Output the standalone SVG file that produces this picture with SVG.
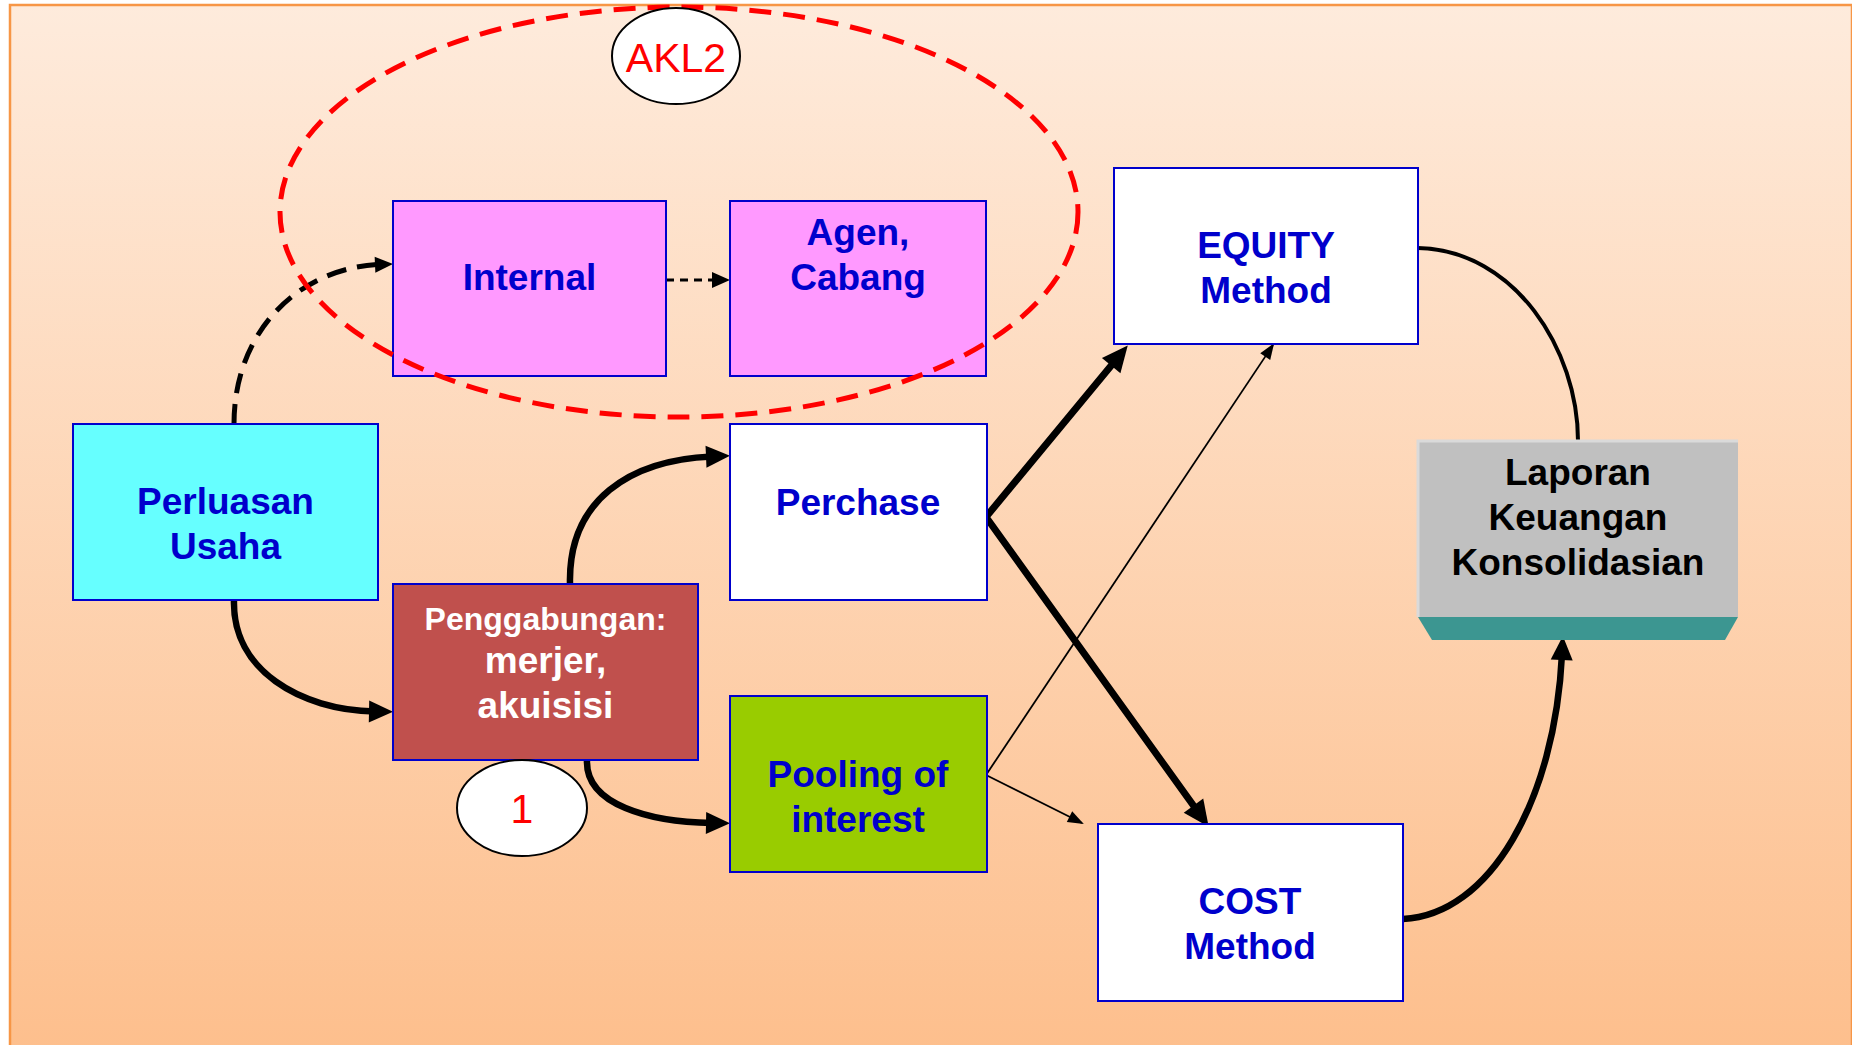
<svg xmlns="http://www.w3.org/2000/svg" width="1852" height="1045" viewBox="0 0 1852 1045">
<defs>
<linearGradient id="bg" x1="0" y1="0" x2="0" y2="1">
<stop offset="0" stop-color="#FEEBDC"/>
<stop offset="1" stop-color="#FDBF8D"/>
</linearGradient>
<marker id="mThick" markerUnits="userSpaceOnUse" markerWidth="26" markerHeight="24" refX="6" refY="12" orient="auto-start-reverse" overflow="visible"><path d="M0,0 L26,12 L0,24 z" fill="#000"/></marker>
<marker id="mMed" markerUnits="userSpaceOnUse" markerWidth="24" markerHeight="22" refX="6" refY="11" orient="auto" overflow="visible"><path d="M0,0 L24,11 L0,22 z" fill="#000"/></marker>
<marker id="mDash" markerUnits="userSpaceOnUse" markerWidth="18" markerHeight="16" refX="4" refY="8" orient="auto" overflow="visible"><path d="M0,0 L18,8 L0,16 z" fill="#000"/></marker>
<marker id="mThin" markerUnits="userSpaceOnUse" markerWidth="16" markerHeight="12" refX="14" refY="6" orient="auto" overflow="visible"><path d="M0,0 L16,6 L0,12 z" fill="#000"/></marker>
</defs>
<style>
.box{stroke:#0000CC;stroke-width:2}
.t{font-family:"Liberation Sans",Arial,sans-serif;font-weight:bold;font-size:37px;text-anchor:middle;fill:#0000CC}
.w{fill:#FFFFFF}
.k{fill:#000000}
.lbl{font-family:"Liberation Sans",Arial,sans-serif;font-size:41px;text-anchor:middle;fill:#FF0000}
.c{fill:none;stroke:#000}
</style>
<rect x="10" y="5" width="1842" height="1045" fill="url(#bg)" stroke="#F79646" stroke-width="2.5"/>

<g id="connectors">
<path class="c" d="M234,424 C234,330 300,268 379,264.5" stroke-width="5" stroke-dasharray="20 11" marker-end="url(#mDash)"/>
<path class="c" d="M666,280 L716,280" stroke-width="3" stroke-dasharray="8 6" marker-end="url(#mDash)"/>
<path class="c" d="M234,600 C232,670 300,710 375,711.5" stroke-width="6.5" marker-end="url(#mMed)"/>
<path class="c" d="M570,584 C568,500 630,460 712,456.5" stroke-width="6.5" marker-end="url(#mMed)"/>
<path class="c" d="M587,760 C585,805 650,822 712,823" stroke-width="6.5" marker-end="url(#mMed)"/>
<path class="c" d="M1115,361 L986,517 L1197,810.5" stroke-width="7" stroke-linejoin="miter" marker-start="url(#mThick)" marker-end="url(#mThick)"/>
<path class="c" d="M986,775 L1273,345" stroke-width="1.8" marker-end="url(#mThin)"/>
<path class="c" d="M986,775 L1082,823" stroke-width="1.8" marker-end="url(#mThin)"/>
<path class="c" d="M1418,248 C1515,250 1578,350 1578,441" stroke-width="4"/>
<path class="c" d="M1403,919 C1490,915 1555,800 1562,654" stroke-width="6.5" marker-end="url(#mMed)"/>
</g>

<g id="node-internal">
<rect class="box" x="393" y="201" width="273" height="175" fill="#FF99FF"/>
<text class="t" x="529.5" y="290">Internal</text>
</g>
<g id="node-agen">
<rect class="box" x="730" y="201" width="256" height="175" fill="#FF99FF"/>
<text class="t" x="858" y="245">Agen,</text>
<text class="t" x="858" y="290">Cabang</text>
</g>
<g id="node-equity">
<rect class="box" x="1114" y="168" width="304" height="176" fill="#FFFFFF"/>
<text class="t" x="1266" y="258">EQUITY</text>
<text class="t" x="1266" y="303">Method</text>
</g>
<g id="node-perluasan">
<rect class="box" x="73" y="424" width="305" height="176" fill="#66FFFF"/>
<text class="t" x="225.5" y="514">Perluasan</text>
<text class="t" x="225.5" y="559">Usaha</text>
</g>
<g id="node-perchase">
<rect class="box" x="730" y="424" width="257" height="176" fill="#FFFFFF"/>
<text class="t" x="858" y="515">Perchase</text>
</g>
<g id="node-penggabungan">
<rect class="box" x="393" y="584" width="305" height="176" fill="#C0504D"/>
<text class="t w" x="545.5" y="630" style="font-size:32px">Penggabungan:</text>
<text class="t w" x="545.5" y="673">merjer,</text>
<text class="t w" x="545.5" y="718">akuisisi</text>
</g>
<g id="node-pooling">
<rect class="box" x="730" y="696" width="257" height="176" fill="#99CC00"/>
<text class="t" x="858" y="787">Pooling of</text>
<text class="t" x="858" y="832">interest</text>
</g>
<g id="node-cost">
<rect class="box" x="1098" y="824" width="305" height="177" fill="#FFFFFF"/>
<text class="t" x="1250" y="914">COST</text>
<text class="t" x="1250" y="959">Method</text>
</g>
<g id="node-laporan">
<polygon points="1418,617 1738,617 1725,640 1432,640" fill="#3C9691"/>
<rect x="1418" y="441" width="320" height="176" fill="#C0C0C0"/>
<path d="M1418,617 L1418,441 L1738,441" fill="none" stroke="#DADADA" stroke-width="3"/>
<text class="t k" x="1578" y="485">Laporan</text>
<text class="t k" x="1578" y="530">Keuangan</text>
<text class="t k" x="1578" y="575">Konsolidasian</text>
</g>
<g id="group-akl2">
<ellipse cx="679" cy="212" rx="399" ry="205" fill="none" stroke="#FF0000" stroke-width="5" stroke-dasharray="22 12"/>
</g>
<g id="label-akl2">
<ellipse cx="676" cy="56" rx="64" ry="48" fill="#FFFFFF" stroke="#000" stroke-width="2"/>
<text class="lbl" x="676" y="72">AKL2</text>
</g>
<g id="label-1">
<ellipse cx="522" cy="808" rx="65" ry="48" fill="#FFFFFF" stroke="#000" stroke-width="2"/>
<text class="lbl" x="522" y="823">1</text>
</g>
</svg>
